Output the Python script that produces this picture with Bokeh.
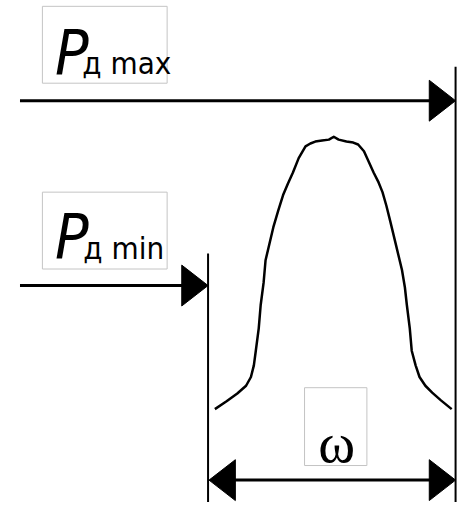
from bokeh.plotting import figure
from bokeh.models import Range1d
from bokeh.core.properties import value
from bokeh.embed import file_html
from bokeh.resources import INLINE

# ---- data (diagram in reference-picture pixel coordinates) ----
curve_x = [220, 232, 243, 252, 257, 260, 262, 265, 267, 270, 272, 276, 280, 285, 290, 295, 300, 306,
           313, 318, 323, 330, 337, 342, 347, 355, 362, 367, 373, 378, 383, 388, 392, 396, 400, 406,
           412, 415, 417, 420, 422, 426, 430, 436, 443, 452, 463]
curve_y = [420, 412, 404, 396, 387, 375, 360, 337, 313, 290, 267, 250, 233, 216, 200, 188, 177, 162,
           150, 147, 145, 144, 143, 140, 143, 145, 146, 148, 155, 166, 177, 187, 197, 211, 227, 252,
           277, 295, 313, 337, 360, 375, 387, 396, 403, 411, 420]

label_text = ["P", "P"]
label_sub = ["д max", "д min"]
label_x = [56, 56]
label_sub_x = [84, 85]
label_main_y = [53, 243]
label_sub_y = [64, 254]
box_left = [43, 43, 312]
box_right = [171, 171, 376]
box_top = [6, 197, 398]
box_bottom = [85, 276, 478]

omega_text = ["ω"]
omega_x = [345]
omega_y = [455]

# horizontal arrow shafts
shaft_x0 = [20, 20, 240]
shaft_x1 = [442, 190, 442]
shaft_y = [103, 293, 493]
# arrow heads: tip x, tip y, direction (+1 right, -1 left)
head_tip_x = [467, 213, 214, 467]
head_tip_y = [103, 293, 493, 493]
head_dir = [1, 1, -1, 1]
head_len = 27
head_half = 21
# vertical limit lines
vline_x = [213, 467]
vline_y0 = [260, 68]
vline_y1 = [518, 518]

W, H = 458, 502
p = figure(width=W, height=H, output_backend="svg", toolbar_location=None,
           x_range=Range1d(0, 470), y_range=Range1d(516, 0),
           min_border=0, outline_line_color=None, background_fill_color="white")
p.xaxis.visible = False
p.yaxis.visible = False
p.grid.visible = False

# label boxes
p.quad(left=box_left, right=box_right, top=box_top, bottom=box_bottom,
       fill_color="white", line_color="#c4c4c4", line_width=1)

# shafts
p.segment(x0=shaft_x0, x1=shaft_x1, y0=shaft_y, y1=shaft_y, line_color="black", line_width=3)
# vertical lines
p.segment(x0=vline_x, x1=vline_x, y0=vline_y0, y1=vline_y1, line_color="black", line_width=2)

# arrow heads
hx, hy = [], []
for tx, ty, d in zip(head_tip_x, head_tip_y, head_dir):
    bx = tx - d * head_len
    hx.append([tx, bx, bx])
    hy.append([ty, ty - head_half, ty + head_half])
p.patches(hx, hy, fill_color="black", line_color="black", line_width=1)

# curve
p.line(curve_x, curve_y, line_color="black", line_width=2.5, line_join="round")

narrow = value("DejaVu Sans Condensed")
p.text(x=label_x, y=label_main_y, text=label_text, text_font=narrow, text_font_size="62px",
       text_font_style="italic", text_baseline="alphabetic", text_align="left", text_color="black")
p.text(x=label_sub_x, y=label_sub_y, text=label_sub, text_font=narrow, text_font_size="31px",
       text_baseline="alphabetic", text_align="left", text_color="black")
p.text(x=omega_x, y=omega_y, text=omega_text, text_font=value("Liberation Serif"),
       text_font_size="56px", text_baseline="middle", text_align="center", text_color="black")

open("out.html", "w").write(file_html(p, INLINE))
